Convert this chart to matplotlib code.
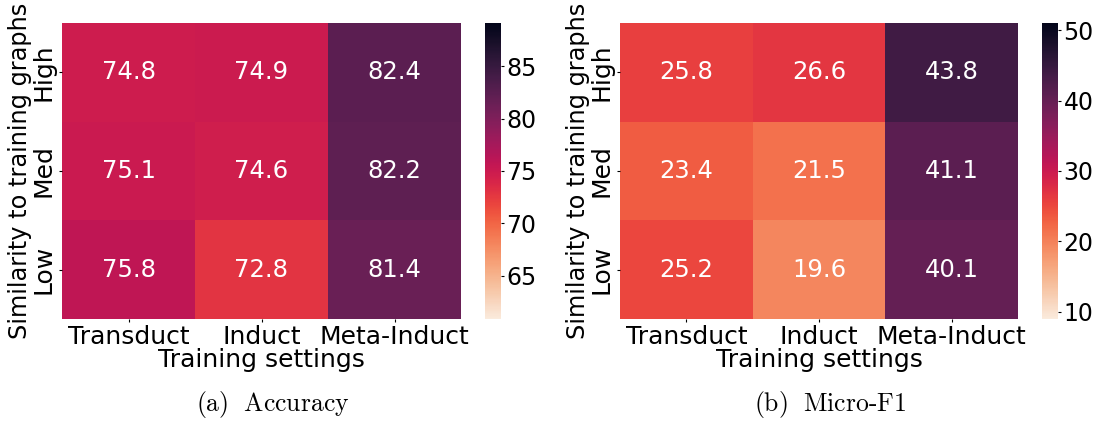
import numpy as np
import matplotlib
matplotlib.use("Agg")
import matplotlib.pyplot as plt
import seaborn as sns

settings = ["Transduct", "Induct", "Meta-Induct"]
similarity = ["High", "Med", "Low"]

accuracy = [
    [74.8, 74.9, 82.4],
    [75.1, 74.6, 82.2],
    [75.8, 72.8, 81.4],
]
micro_f1 = [
    [25.8, 26.6, 43.8],
    [23.4, 21.5, 41.1],
    [25.2, 19.6, 40.1],
]

plt.rcParams["font.family"] = ["DejaVu Sans"]
plt.rcParams["mathtext.fontset"] = "cm"

fig = plt.figure(figsize=(10.96, 4.21), dpi=100)
W, H = 1096, 421


def px_axes(x0, y0, x1, y1):
    return fig.add_axes([x0 / W, 1 - y1 / H, (x1 - x0) / W, (y1 - y0) / H])


panels = [
    (accuracy, 60.9, 89.1, (62, 23, 461, 319), (485, 23, 501, 319),
     [65, 70, 75, 80, 85], r"$\mathrm{(a)\ \ Accuracy}$", 273),
    (micro_f1, 9.0, 51.0, (620, 23, 1018, 319), (1042, 23, 1058, 319),
     [10, 20, 30, 40, 50], r"$\mathrm{(b)\ \ Micro\text{-}F1}$", 830),
]

for data, vmin, vmax, abox, cbox, cticks, caption, cx in panels:
    ax = px_axes(*abox)
    cax = px_axes(*cbox)
    sns.heatmap(np.array(data), ax=ax, cbar_ax=cax, cmap="rocket_r",
                vmin=vmin, vmax=vmax, annot=True, fmt=".1f",
                annot_kws={"fontsize": 17.5},
                xticklabels=settings, yticklabels=similarity)
    ax.tick_params(axis="both", labelsize=18, pad=2, length=2.5)
    ax.set_yticklabels(similarity, rotation=90, va="center")
    ax.set_xlabel("Training settings", fontsize=18, labelpad=-1)
    ax.set_ylabel("Similarity to training graphs", fontsize=17.3, labelpad=0)
    cax.set_yticks(cticks)
    cax.tick_params(labelsize=17, pad=1.5, length=2.5)
    fig.text(cx / W, 1 - 405 / H, caption, fontsize=18.5, ha="center", va="center")

fig.savefig("out.png", dpi=100)
